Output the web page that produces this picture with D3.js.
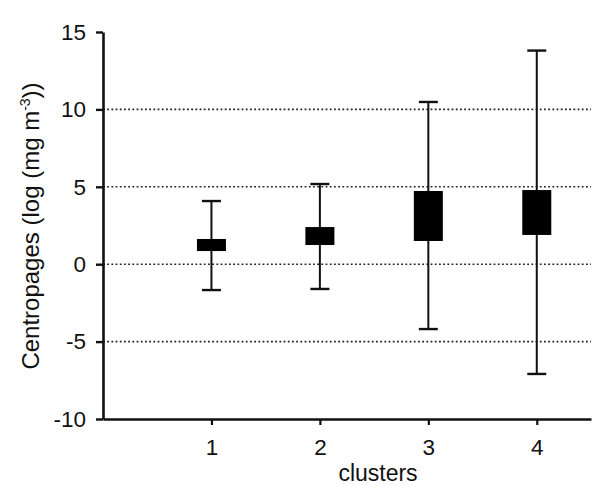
<!DOCTYPE html>
<html>
<head>
<meta charset="utf-8">
<script src="https://cdn.jsdelivr.net/npm/d3@7"></script>
<style>
  body { margin: 0; background: #fff; }
  svg text { font-family: "Liberation Sans", Arial, Helvetica, sans-serif; fill: #111; }
</style>
</head>
<body>
<div id="chart"></div>
<script>
// ----------------
// Data
// ----------------
const clusters = [1, 2, 3, 4];
const whiskerLow = [-1.67, -1.6, -4.19, -7.09];
const boxLow = [0.85, 1.24, 1.5, 1.89];
const boxHigh = [1.63, 2.4, 4.73, 4.79];
const whiskerHigh = [4.08, 5.18, 10.48, 13.8];
const yTicks = [-10, -5, 0, 5, 10, 15];
const gridValues = [-5, 0, 5, 10];

// ----------------
// Layout
// ----------------
const width = 594, height = 486;
const margin = {top: 32, right: 3, bottom: 67, left: 103};
const boxWidth = 29;
const capWidth = 19;

const svg = d3.select("#chart").append("svg")
  .attr("width", width)
  .attr("height", height);

const x = d3.scaleLinear()
  .domain([0, 4.5])
  .range([margin.left, width - margin.right]);

const y = d3.scaleLinear()
  .domain([-10, 15])
  .range([height - margin.bottom, margin.top]);

// dotted gridlines
svg.append("g")
  .selectAll("line")
  .data(gridValues)
  .enter().append("line")
    .attr("x1", x(0))
    .attr("x2", x(4.5))
    .attr("y1", d => y(d))
    .attr("y2", d => y(d))
    .attr("stroke", "#222")
    .attr("stroke-width", 1.6)
    .attr("stroke-dasharray", "1.8,2.4");

// y axis (plain hyphen for negatives, like the original)
var yAxis = svg.append("g")
  .attr("transform", "translate(" + x(0) + ",0)")
  .call(d3.axisLeft(y).tickValues(yTicks).tickFormat(d => String(d))
    .tickSize(7).tickSizeOuter(0).tickPadding(10));
yAxis.select(".domain").attr("stroke", "#111").attr("stroke-width", 2.6);
yAxis.selectAll(".tick line").attr("stroke", "#111").attr("stroke-width", 2.4);
yAxis.selectAll(".tick text").style("font-size", "22.5px");

// x axis
var xAxis = svg.append("g")
  .attr("transform", "translate(0," + y(-10) + ")")
  .call(d3.axisBottom(x).tickValues(clusters).tickFormat(d => String(d))
    .tickSize(6).tickSizeOuter(0).tickPadding(14));
xAxis.select(".domain").attr("stroke", "#111").attr("stroke-width", 2.6);
xAxis.selectAll(".tick line").attr("stroke", "#111").attr("stroke-width", 2.2);
xAxis.selectAll(".tick text").style("font-size", "22.5px");

// ----------------
// Box / whisker marks
// ----------------
var marks = svg.append("g")
  .selectAll("g")
  .data(clusters)
  .enter().append("g");

marks.append("line")
  .attr("x1", d => x(d))
  .attr("x2", d => x(d))
  .attr("y1", (d, i) => y(whiskerLow[i]))
  .attr("y2", (d, i) => y(whiskerHigh[i]))
  .attr("stroke", "#111")
  .attr("stroke-width", 2);

marks.append("line")
  .attr("x1", d => x(d) - capWidth / 2)
  .attr("x2", d => x(d) + capWidth / 2)
  .attr("y1", (d, i) => y(whiskerHigh[i]))
  .attr("y2", (d, i) => y(whiskerHigh[i]))
  .attr("stroke", "#111")
  .attr("stroke-width", 2.4);

marks.append("line")
  .attr("x1", d => x(d) - capWidth / 2)
  .attr("x2", d => x(d) + capWidth / 2)
  .attr("y1", (d, i) => y(whiskerLow[i]))
  .attr("y2", (d, i) => y(whiskerLow[i]))
  .attr("stroke", "#111")
  .attr("stroke-width", 2.4);

marks.append("rect")
  .attr("x", d => x(d) - boxWidth / 2)
  .attr("y", (d, i) => y(boxHigh[i]))
  .attr("width", boxWidth)
  .attr("height", (d, i) => y(boxLow[i]) - y(boxHigh[i]))
  .attr("fill", "#000");

// ----------------
// Axis titles
// ----------------
svg.append("text")
  .attr("x", 378)
  .attr("y", 481)
  .attr("text-anchor", "middle")
  .style("font-size", "23px")
  .text("clusters");

var yTitle = svg.append("text")
  .attr("transform", "translate(39,226) rotate(-90)")
  .attr("text-anchor", "middle")
  .style("font-size", "24px");
yTitle.append("tspan").text("Centropages (log (mg m");
yTitle.append("tspan").attr("dy", -9).style("font-size", "14px").text("-3");
yTitle.append("tspan").attr("dy", 9).text("))");
</script>
</body>
</html>
